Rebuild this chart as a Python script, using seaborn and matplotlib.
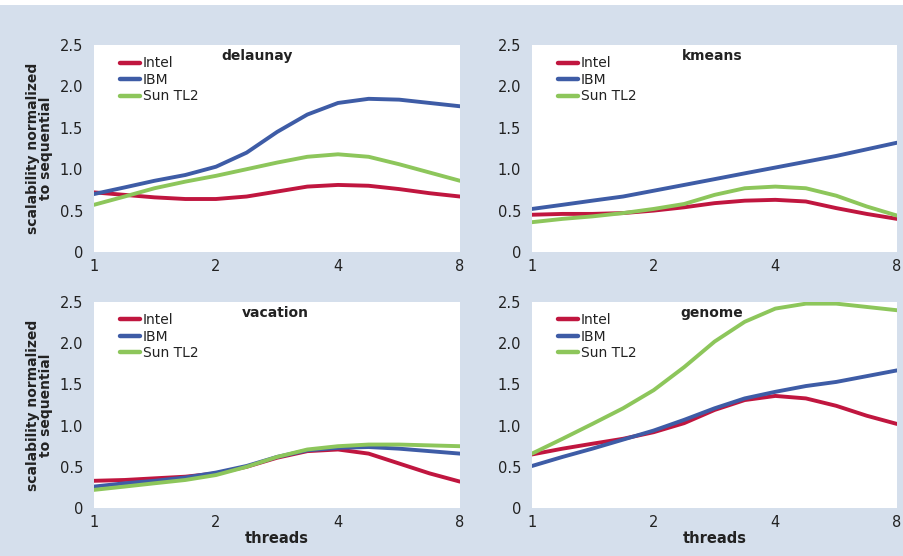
import matplotlib
matplotlib.use("Agg")
import matplotlib.pyplot as plt
import matplotlib.patches as mpatches
import seaborn as sns
import pandas as pd

# ---------------- data ----------------
threads = [1, 1.19, 1.41, 1.68, 2, 2.38, 2.83, 3.36, 4, 4.76, 5.66, 6.73, 8]
systems = ["Intel", "IBM", "Sun TL2"]
benchmarks = ["delaunay", "kmeans", "vacation", "genome"]

delaunay_intel = [0.72, 0.69, 0.66, 0.64, 0.64, 0.67, 0.73, 0.79, 0.81, 0.80, 0.76, 0.71, 0.67]
delaunay_ibm   = [0.70, 0.78, 0.86, 0.93, 1.03, 1.20, 1.45, 1.66, 1.80, 1.85, 1.84, 1.80, 1.76]
delaunay_sun   = [0.57, 0.67, 0.77, 0.85, 0.92, 1.00, 1.08, 1.15, 1.18, 1.15, 1.06, 0.96, 0.86]

kmeans_intel = [0.45, 0.46, 0.46, 0.47, 0.50, 0.54, 0.59, 0.62, 0.63, 0.61, 0.53, 0.46, 0.40]
kmeans_ibm   = [0.52, 0.57, 0.62, 0.67, 0.74, 0.81, 0.88, 0.95, 1.02, 1.09, 1.16, 1.24, 1.32]
kmeans_sun   = [0.36, 0.40, 0.43, 0.47, 0.52, 0.58, 0.69, 0.77, 0.79, 0.77, 0.68, 0.55, 0.44]

vacation_intel = [0.33, 0.34, 0.36, 0.38, 0.42, 0.50, 0.61, 0.69, 0.71, 0.66, 0.54, 0.42, 0.32]
vacation_ibm   = [0.26, 0.30, 0.33, 0.37, 0.43, 0.51, 0.62, 0.70, 0.73, 0.74, 0.72, 0.69, 0.66]
vacation_sun   = [0.22, 0.26, 0.30, 0.34, 0.40, 0.50, 0.62, 0.71, 0.75, 0.77, 0.77, 0.76, 0.75]

genome_intel = [0.65, 0.72, 0.78, 0.84, 0.92, 1.03, 1.19, 1.31, 1.36, 1.33, 1.24, 1.12, 1.02]
genome_ibm   = [0.51, 0.62, 0.72, 0.83, 0.94, 1.07, 1.21, 1.33, 1.41, 1.48, 1.53, 1.60, 1.67]
genome_sun   = [0.66, 0.84, 1.02, 1.21, 1.43, 1.71, 2.02, 2.26, 2.42, 2.48, 2.48, 2.44, 2.40]

series = {
    "delaunay": [delaunay_intel, delaunay_ibm, delaunay_sun],
    "kmeans": [kmeans_intel, kmeans_ibm, kmeans_sun],
    "vacation": [vacation_intel, vacation_ibm, vacation_sun],
    "genome": [genome_intel, genome_ibm, genome_sun],
}

x_ticks = [1, 2, 4, 8]
x_ticklabels = ["1", "2", "4", "8"]
y_ticks = [0, 0.5, 1.0, 1.5, 2.0, 2.5]
y_ticklabels = ["0", "0.5", "1.0", "1.5", "2.0", "2.5"]

rows = []
for b in benchmarks:
    for s, vals in zip(systems, series[b]):
        for t, v in zip(threads, vals):
            rows.append({"benchmark": b, "system": s, "threads": t, "value": v})
df = pd.DataFrame(rows)

# ---------------- style ----------------
sns.set_theme(style="white")
plt.rcParams["font.family"] = ["DejaVu Sans"]
BG = "#d5dfec"
TXT = "#222222"
palette = {"Intel": "#c0163f", "IBM": "#3e5ca6", "Sun TL2": "#8dc65b"}

W, H = 904, 556
fig = plt.figure(figsize=(W / 100, H / 100), dpi=100, facecolor=BG)
# thin white strip at the top of the image
fig.patches.append(mpatches.Rectangle((0, 1 - 5 / H), 1, 5 / H, transform=fig.transFigure,
                                      facecolor="white", edgecolor="none", zorder=0))

def px_axes(left, top, right, bottom):
    return fig.add_axes([left / W, 1 - bottom / H, (right - left) / W, (bottom - top) / H])

positions = {
    "delaunay": (94, 45, 460, 252),
    "kmeans": (532, 45, 897, 252),
    "vacation": (94, 302, 460, 508),
    "genome": (532, 302, 897, 508),
}
title_x = {"delaunay": 0.445, "kmeans": 0.493, "vacation": 0.495, "genome": 0.493}

for b in benchmarks:
    ax = px_axes(*positions[b])
    ax.set_facecolor("white")
    sub = df[df["benchmark"] == b]
    sns.lineplot(data=sub, x="threads", y="value", hue="system", hue_order=systems,
                 palette=palette, linewidth=2.8, ax=ax, legend=True)
    ax.set_xscale("log", base=2)
    ax.set_xlim(1, 8)
    ax.set_ylim(0, 2.5)
    ax.set_xticks(x_ticks)
    ax.set_xticklabels(x_ticklabels)
    ax.set_xticks([2, 4], minor=True)
    ax.set_yticks(y_ticks)
    ax.set_yticklabels(y_ticklabels)
    ax.set_yticks([0.5, 1.0, 1.5, 2.0], minor=True)
    ax.tick_params(axis="x", which="major", length=0, pad=5, labelsize=10.5, labelcolor=TXT)
    ax.tick_params(axis="x", which="minor", length=5, width=1, direction="in",
                   color="#666666", bottom=True, labelbottom=False)
    ax.tick_params(axis="y", which="major", length=0, pad=8, labelsize=10.5, labelcolor=TXT)
    ax.tick_params(axis="y", which="minor", length=5, width=1, direction="out",
                   color="#666666", left=True)
    for sp in ax.spines.values():
        sp.set_visible(False)
    ax.text(title_x[b], 0.948, b, transform=ax.transAxes, ha="center", va="center",
            fontsize=10, fontweight="bold", color=TXT)
    leg = ax.legend(loc="upper left", bbox_to_anchor=(0.071, 0.945), frameon=False,
                    fontsize=10, handlelength=1.45, handletextpad=0.2, labelspacing=0.18,
                    borderpad=0, borderaxespad=0)
    for line in leg.get_lines():
        line.set_linewidth(3.2)
    for t in leg.get_texts():
        t.set_color(TXT)
    if b in ("delaunay", "vacation"):
        ax.set_ylabel("scalability normalized\nto sequential", fontsize=10,
                      fontweight="bold", color=TXT, linespacing=0.95)
        ax.yaxis.set_label_coords(-0.112, 0.5)
    else:
        ax.set_ylabel("")
    if b in ("vacation", "genome"):
        ax.set_xlabel("threads", fontsize=10.5, fontweight="bold", color=TXT, labelpad=1)
    else:
        ax.set_xlabel("")

fig.savefig("out.png", dpi=100, facecolor=BG)
